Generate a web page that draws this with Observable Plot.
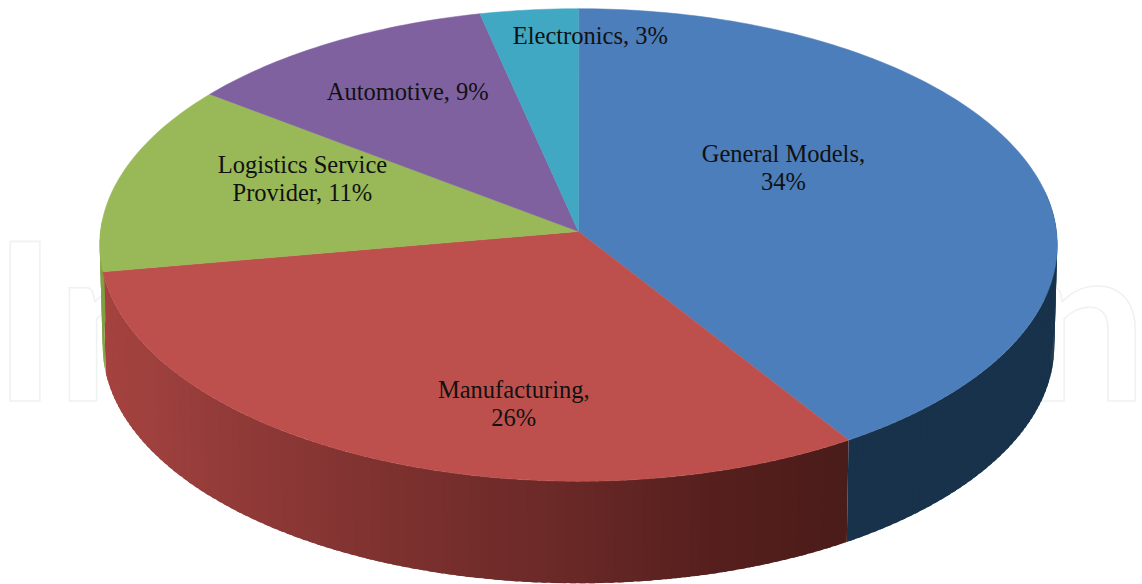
<!DOCTYPE html>
<html>
<head>
<meta charset="utf-8">
<script src="https://cdn.jsdelivr.net/npm/d3@7"></script>
<script src="https://cdn.jsdelivr.net/npm/@observablehq/plot@0.6"></script>
<style>html,body{margin:0;padding:0;background:#fff}svg{display:block}</style>
</head>
<body>
<div id="chart"></div>
<script>
const categories = ["General Models", "Manufacturing", "Logistics Service Provider", "Automotive", "Electronics"];
const shares = [34, 26, 10.8, 9.3, 2.9];
const labels = ["General Models,\n34%", "Manufacturing,\n26%", "Logistics Service\nProvider, 11%", "Automotive, 9%", "Electronics, 3%"];
const topColors = ["#4c7ebb", "#bd504c", "#99b958", "#7f61a0", "#40a8c2"];
const sideColors = ["#17324a", null, "#7f9f43", "#5e4778", "#2f7f91"];
const labelAngles = [57.4, 190.5, 291.3, 329.1, 1.7];
const labelRadii = [0.517, 0.713, 0.628, 0.720, 0.876];
const watermark = "IntechOpen";

const W = 1142, H = 584;
const total = d3.sum(shares);
const k = 0.057;
const topFace = {cx: 578, cy: 231, sx: 478, sy: 235.5};
const baseFace = {cx: 578, cy: 332, sx: 475, sy: 236.5};
const project = (face, deg, r = 1) => {
  const a = deg * Math.PI / 180, u = r * Math.sin(a), v = r * Math.cos(a), w = 1 + k * v;
  return [face.cx + face.sx * u / w, face.cy - face.sy * v / w];
};
let acc = 0;
const slices = shares.map((s, i) => {
  const start = acc / total * 360; acc += s;
  return {i, start, end: acc / total * 360};
});

const redRamp = d3.scaleLinear().domain([147.5, 165, 180, 215, 240, 260])
  .range(["#4a1c1a", "#561f1d", "#682826", "#8a3735", "#9f413e", "#a5423f"]);

// side wall: overlapping strips, only the part of the rim that faces the viewer
const sidePolys = [];
let sid = 0;
const addStrip = (a0, a1, color) => {
  const ring = [project(topFace, a0), project(topFace, a1), project(baseFace, a1), project(baseFace, a0)];
  ring.forEach(p => sidePolys.push({id: sid, x: p[0], y: p[1], color}));
  sid++;
};
slices.forEach(sl => {
  const from = Math.max(sl.start, 80), to = Math.min(sl.end, 273);
  if (to <= from) return;
  const n = Math.ceil((to - from) / 1.1), step = (to - from) / n;
  for (let j = 0; j < n; j++) {
    const a0 = from + j * step;
    addStrip(a0, Math.min(a0 + step * 1.6, to), sideColors[sl.i] ?? redRamp(a0 + step / 2));
  }
});

// top face slices
const topPolys = [];
slices.forEach(sl => {
  topPolys.push({id: sl.i, x: topFace.cx, y: topFace.cy, color: topColors[sl.i]});
  const n = Math.ceil(sl.end - sl.start);
  for (let j = 0; j <= n; j++) {
    const [x, y] = project(topFace, sl.start + (sl.end - sl.start) * j / n);
    topPolys.push({id: sl.i, x, y, color: topColors[sl.i]});
  }
});

const labelData = labels.map((text, i) => {
  const [x, y] = project(topFace, labelAngles[i], labelRadii[i]);
  return {text, x, y};
});

const chart = Plot.plot({
  width: W, height: H,
  margin: 0,
  x: {domain: [0, W], range: [0, W], axis: null},
  y: {domain: [0, H], range: [0, H], axis: null},
  color: {type: "identity"},
  style: {background: "#fff"},
  marks: [
    Plot.text([watermark], {
      x: () => -8, y: () => 400, text: d => d, textAnchor: "start", lineAnchor: "bottom",
      fontFamily: "Lato", fontWeight: 700, fontSize: 220,
      fill: "#fff", stroke: "#f0f2f2", strokeWidth: 1.6, strokeLinejoin: "round", paintOrder: "normal"
    }),
    Plot.line(sidePolys, {x: "x", y: "y", z: "id", fill: "color", curve: "linear-closed"}),
    Plot.line(topPolys, {x: "x", y: "y", z: "id", fill: "color", stroke: "color", strokeWidth: 0.5, curve: "linear-closed"}),
    Plot.text(labelData, {
      x: "x", y: "y", text: "text", fontFamily: "Liberation Serif", fontSize: 24.5, lineHeight: 1.14,
      fill: "#111", textAnchor: "middle", lineAnchor: "middle"
    })
  ]
});
document.getElementById("chart").append(chart);
</script>
</body>
</html>
